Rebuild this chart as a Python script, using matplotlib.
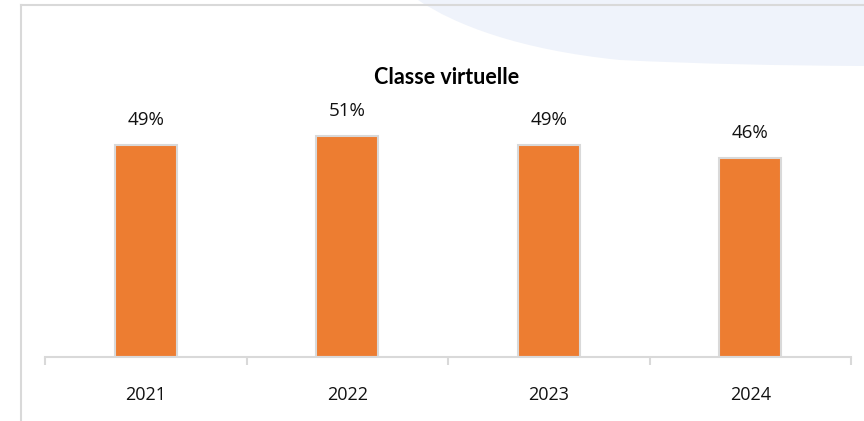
import matplotlib.pyplot as plt
from matplotlib.path import Path
from matplotlib.patches import PathPatch
from matplotlib.lines import Line2D

W, H = 864, 421

years = ["2021", "2022", "2023", "2024"]
shares = [0.49, 0.51, 0.49, 0.46]
labels = ["49%", "51%", "49%", "46%"]

BAR = '#ED7D31'
GRID = '#D9D9D9'
BLUE = '#EFF3FB'

plt.rcParams['font.family'] = ['Open Sans', 'DejaVu Sans']

fig = plt.figure(figsize=(W / 100, H / 100), dpi=100)


def fx(px):
    return px / W


def fy(py):
    # image y (from top) -> figure y
    return 1 - py / H


# light blue decoration in the top-right corner
verts = [(fx(418), fy(0)),
         (fx(455), fy(25)), (fx(520), fy(50)), (fx(620), fy(60)),
         (fx(700), fy(64)), (fx(780), fy(65.5)), (fx(864), fy(66)),
         (fx(864), fy(0)), (fx(418), fy(0))]
codes = [Path.MOVETO,
         Path.CURVE4, Path.CURVE4, Path.CURVE4,
         Path.CURVE4, Path.CURVE4, Path.CURVE4,
         Path.LINETO, Path.CLOSEPOLY]
fig.add_artist(PathPatch(Path(verts, codes), facecolor=BLUE, edgecolor='none',
                         transform=fig.transFigure, zorder=0))

# frame lines (left and top)
fig.add_artist(Line2D([fx(21), fx(21)], [0, fy(5)], color=GRID, lw=1.5,
                      transform=fig.transFigure))
fig.add_artist(Line2D([fx(21), 1], [fy(5), fy(5)], color=GRID, lw=1.5,
                      transform=fig.transFigure))

# axes: baseline at y=357, x from 45 to 851
ax = fig.add_axes([fx(45), fy(357), fx(851) - fx(45), fy(97) - fy(357)])
ax.set_facecolor('none')
x = range(len(years))
ax.bar(x, shares, width=0.31, color=BAR, edgecolor=GRID, linewidth=1.5, zorder=2)
for i, (v, lab) in enumerate(zip(shares, labels)):
    ax.annotate(lab, (i, v), xytext=(0, 18), textcoords='offset points',
                ha='center', va='center', fontsize=13.5, color='#111111')

ax.set_xlim(-0.5, len(years) - 0.5)
ax.set_ylim(0, 0.6)
for s in ['top', 'right', 'left']:
    ax.spines[s].set_visible(False)
ax.spines['bottom'].set_color(GRID)
ax.spines['bottom'].set_linewidth(1.5)
ax.set_yticks([])
ax.set_xticks(list(x))
ax.set_xticklabels(years, fontsize=13, color='#111111')
ax.tick_params(axis='x', which='major', length=0, pad=21)
ax.set_xticks([i - 0.5 for i in range(len(years) + 1)], minor=True)
ax.tick_params(axis='x', which='minor', length=6, width=1.5, color=GRID)

fig.text(fx(447), fy(77), "Classe virtuelle", ha='center', va='center',
         fontsize=15.5, fontweight='bold', color='black', family=['Lato', 'DejaVu Sans'])

fig.savefig('out.png', dpi=100)
